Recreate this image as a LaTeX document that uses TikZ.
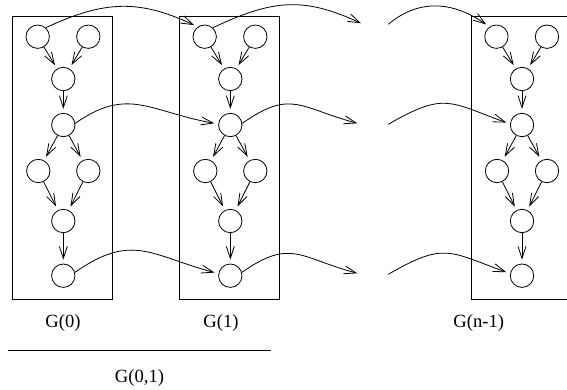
\documentclass[tikz,border=0pt]{standalone}
\usepackage{fontspec}
\setmainfont{Liberation Serif}
\usetikzlibrary{arrows.meta}
\tikzset{
  vertex/.style={draw,circle,minimum size=23.4pt,inner sep=0pt},
  flow/.style={->,shorten >=4pt},
  label/.style={font=\fontsize{18.6}{22}\selectfont,inner sep=0pt},
}

\begin{document}
\begin{tikzpicture}[x=1pt,y=1pt,line width=0.8pt,>={Straight Barb[length=12pt,width=8pt]}]
\useasboundingbox (0,0) rectangle (567,-390);
\clip (0,0) rectangle (567,-390);
% one copy of the graph per box
\foreach \L/\g in {12.3/a,179.3/b,471/c} {
    \draw (\L,-16) rectangle +(100,-283);
    \node[vertex] (\g1) at (\L+25.4,-36.7) {};
    \node[vertex] (\g2) at (\L+76,-36.7) {};
    \node[vertex] (\g3) at (\L+51,-79) {};
    \node[vertex] (\g4) at (\L+51,-125) {};
    \node[vertex] (\g5) at (\L+26,-171) {};
    \node[vertex] (\g6) at (\L+76,-171) {};
    \node[vertex] (\g7) at (\L+51,-221) {};
    \node[vertex] (\g8) at (\L+51,-275.7) {};
    \foreach \s/\t in {1/3,2/3,3/4,4/5,4/6,5/7,6/7,7/8} {
        \draw[flow] (\g\s) -- (\g\t);
    }
}
% loose ends on both sides of the gap
\coordinate (g1) at (361,-23.3);
\coordinate (g4) at (357.3,-123.3);
\coordinate (g8) at (357.3,-273.3);
\coordinate (h1) at (388.3,-24.3);
\coordinate (h4) at (388.3,-124.3);
\coordinate (h8) at (388.3,-274.3);
% links between copies
\draw[flow] (a1.48) .. controls +(25:65) and +(155:65) .. (b1.125);
\draw[->] (b1.48) .. controls +(25:65) and +(155:65) .. (g1);
\draw[flow] (h1) .. controls +(40:42) and +(145:42) .. (c1.125);
\draw[flow] (a4.8) .. controls +(35:65) and +(170:70) .. (b4.175);
\draw[->] (b4.8) .. controls +(35:60) and +(165:60) .. (g4);
\draw[flow] (h4) .. controls +(30:65) and +(160:65) .. (c4.175);
\draw[flow] (a8.16) .. controls +(35:70) and +(165:70) .. (b8.170);
\draw[->] (b8.16) .. controls +(35:60) and +(165:60) .. (g8);
\draw[flow] (h8) .. controls +(30:65) and +(160:65) .. (c8.170);
% names
\node[label] (la) at (63,-323.3) {G(0)};
\node[label] (lb) at (221,-323.3) {G(1)};
\node[label] (lc) at (478.7,-323.3) {G(n-1)};
\draw (8,-350) -- (270.7,-350);
\node[label] (lab) at (139.5,-378) {G(0,1)};
\end{tikzpicture}
\end{document}
